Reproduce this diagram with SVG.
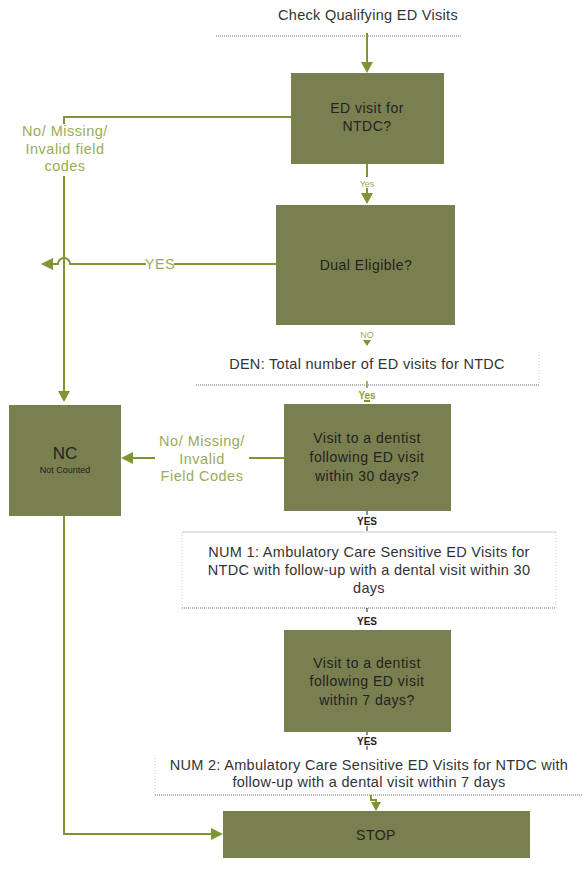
<svg xmlns="http://www.w3.org/2000/svg" width="582" height="886" viewBox="0 0 582 886">
<defs>
<style>
.box{fill:#7a7f4f;}
.bt{font-family:"Liberation Sans",Arial,sans-serif;font-size:14px;letter-spacing:0.5px;fill:#222;text-anchor:middle;}
.t{font-family:"Liberation Sans",Arial,sans-serif;font-size:14.5px;letter-spacing:0.3px;fill:#333;text-anchor:middle;}
.lab{font-family:"Liberation Sans",Arial,sans-serif;font-size:14.5px;letter-spacing:0.5px;fill:#9bab55;text-anchor:middle;}
.sm{font-family:"Liberation Sans",Arial,sans-serif;font-size:9px;fill:#9bab55;text-anchor:middle;}
.yes{font-family:"Liberation Sans",Arial,sans-serif;font-size:10px;font-weight:bold;fill:#222;text-anchor:middle;}
.c{stroke:#7d9631;stroke-width:2;fill:none;}
.ah{fill:#7d9631;}
.dot{stroke:#b4b4b4;stroke-width:2;stroke-dasharray:1 1;fill:none;}
.dotl{stroke:#cfcfcf;stroke-width:1;stroke-dasharray:1 2;fill:none;}
</style>
</defs>
<rect width="582" height="886" fill="#fff"/>

<g id="start">
<text class="t" x="368" y="20">Check Qualifying ED Visits</text>
<line class="dot" x1="216" y1="36" x2="462" y2="36"/>
</g>

<g id="box1">
<rect class="box" x="291" y="73" width="153" height="91"/>
<text class="bt" x="367" y="113">ED visit for</text>
<text class="bt" x="367" y="131">NTDC?</text>
</g>

<g id="box2">
<rect class="box" x="276" y="205" width="179" height="120"/>
<text class="bt" x="366" y="270">Dual Eligible?</text>
</g>

<g id="den">
<text class="t" x="367" y="369" font-size="13.5" letter-spacing="0">DEN: Total number of ED visits for NTDC</text>
<line class="dot" x1="196" y1="385" x2="539" y2="385"/>
<line class="dotl" x1="539" y1="352" x2="539" y2="385"/>
</g>

<g id="nc">
<rect class="box" x="9" y="405" width="112" height="111"/>
<text x="65" y="459" font-family="Liberation Sans,Arial,sans-serif" font-size="17" fill="#222" text-anchor="middle">NC</text>
<text x="65" y="473" font-family="Liberation Sans,Arial,sans-serif" font-size="9" fill="#222" text-anchor="middle">Not Counted</text>
</g>

<g id="box3">
<rect class="box" x="284" y="404" width="167" height="107"/>
<text class="bt" x="367" y="443">Visit to a dentist</text>
<text class="bt" x="367" y="462">following ED visit</text>
<text class="bt" x="367" y="481">within 30 days?</text>
</g>

<g id="num1">
<line x1="182" y1="532" x2="556" y2="532" stroke="#c8c8c8" stroke-width="1"/>
<line class="dotl" x1="182" y1="532" x2="182" y2="608"/>
<line class="dotl" x1="556" y1="532" x2="556" y2="608"/>
<line class="dot" x1="182" y1="608" x2="556" y2="608"/>
<text class="t" x="369" y="557">NUM 1: Ambulatory Care Sensitive ED Visits for</text>
<text class="t" x="369" y="575">NTDC with follow-up with a dental visit within 30</text>
<text class="t" x="369" y="593">days</text>
</g>

<g id="box4">
<rect class="box" x="284" y="630" width="167" height="102"/>
<text class="bt" x="367" y="668">Visit to a dentist</text>
<text class="bt" x="367" y="686">following ED visit</text>
<text class="bt" x="367" y="705">within 7 days?</text>
</g>

<g id="num2">
<line class="dotl" x1="155" y1="755" x2="155" y2="795"/>
<line class="dot" x1="155" y1="795" x2="582" y2="795"/>
<text class="t" x="369" y="770">NUM 2: Ambulatory Care Sensitive ED Visits for NTDC with</text>
<text class="t" x="369" y="787">follow-up with a dental visit within 7 days</text>
</g>

<g id="stop">
<rect class="box" x="223" y="811" width="307" height="47"/>
<text class="bt" x="376" y="840">STOP</text>
</g>

<g id="connectors">
<line class="c" x1="367" y1="33" x2="367" y2="63"/>
<polygon class="ah" points="361,62 373,62 367,73"/>
<polyline class="c" points="291,117 64,117 64,124"/>
<line class="c" x1="64" y1="176" x2="64" y2="392"/>
<polygon class="ah" points="58,391 70,391 64,402"/>
<line class="c" x1="367" y1="164" x2="367" y2="177"/>
<line class="c" x1="367" y1="188" x2="367" y2="194"/>
<polygon class="ah" points="361,193 373,193 367,204"/>
<line class="c" x1="276" y1="264" x2="174" y2="264"/>
<path class="c" d="M146,264 H70 A6,6 0 0 0 58,264 H52"/>
<polygon class="ah" points="53,258 53,270 41,264"/>
<polygon class="ah" points="363,340 371,340 367,346"/>
<line x1="367" y1="381" x2="367" y2="388" stroke="#7d9631" stroke-width="1.5"/>
<line x1="364" y1="401" x2="370" y2="401" stroke="#7d9631" stroke-width="2"/>
<line class="c" x1="284" y1="458" x2="249" y2="458"/>
<line class="c" x1="155" y1="458" x2="132" y2="458"/>
<polygon class="ah" points="133,452 133,464 121,458"/>
<polyline class="c" points="64,516 64,834 212,834"/>
<polygon class="ah" points="211,828 211,840 223,834"/>
<line x1="367" y1="511" x2="367" y2="515" stroke="#222" stroke-width="1"/>
<line x1="367" y1="526" x2="367" y2="531" stroke="#222" stroke-width="1"/>
<line x1="367" y1="608" x2="367" y2="612" stroke="#222" stroke-width="1"/>
<line x1="367" y1="732" x2="367" y2="735" stroke="#222" stroke-width="1"/>
<line x1="367" y1="746" x2="367" y2="750" stroke="#222" stroke-width="1"/>
<polyline class="c" points="371,795 371,800 376,800 376,803"/>
<polygon class="ah" points="371,802 381,802 376,811"/>
</g>

<g id="labels">
<text class="lab" x="65" y="136">No/ Missing/</text>
<text class="lab" x="65" y="154">Invalid field</text>
<text class="lab" x="65" y="171">codes</text>
<text class="sm" x="367" y="187">Yes</text>
<text class="lab" x="160" y="269">YES</text>
<text class="sm" x="367" y="338">NO</text>
<text x="367" y="399" font-family="Liberation Sans,Arial,sans-serif" font-size="10" font-weight="bold" fill="#8fa040" text-anchor="middle">Yes</text>
<text class="lab" x="202" y="446">No/ Missing/</text>
<text class="lab" x="202" y="464">Invalid</text>
<text class="lab" x="202" y="481">Field Codes</text>
<text class="yes" x="367" y="525">YES</text>
<text class="yes" x="367" y="625">YES</text>
<text class="yes" x="367" y="745">YES</text>
</g>
</svg>
